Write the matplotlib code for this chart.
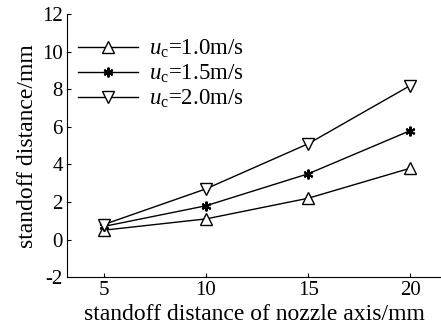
import matplotlib
matplotlib.use("Agg")
import matplotlib.pyplot as plt

x = [5, 10, 15, 20]
u10 = [0.5, 1.1, 2.2, 3.8]
u15 = [0.7, 1.8, 3.5, 5.8]
u20 = [0.8, 2.7, 5.1, 8.2]
labels = [r'$u_{\rm c}$=1.0m/s', r'$u_{\rm c}$=1.5m/s', r'$u_{\rm c}$=2.0m/s']
xticks = [5, 10, 15, 20]
yticks = [-2, 0, 2, 4, 6, 8, 10, 12]

plt.rcParams['font.family'] = ['Liberation Serif', 'DejaVu Serif']
plt.rcParams['mathtext.fontset'] = 'custom'
plt.rcParams['mathtext.rm'] = 'Liberation Serif'
plt.rcParams['mathtext.it'] = 'Liberation Serif:italic'
plt.rcParams['axes.unicode_minus'] = False

fig = plt.figure(figsize=(4.41, 3.28), dpi=100)
ax = fig.add_axes([0.152, 0.155, 0.848, 0.802])

ax.plot(x, u10, color='black', lw=1, marker='^', ms=9, mfc='white', mec='black', mew=1, label=labels[0])
ax.plot(x, u15, color='black', lw=1, marker=(6, 2, 0), ms=7, mec='black', mew=1.5, label=labels[1])
ax.plot(x, u20, color='black', lw=1, marker='v', ms=9, mfc='white', mec='black', mew=1, label=labels[2])

ax.set_xlim(3.2, 21.5)
ax.set_ylim(-2, 12)
ax.set_xticks(xticks)
ax.set_yticks(yticks)
ax.tick_params(direction='in', labelsize=15, length=3, width=0.8, pad=3)
ax.spines['top'].set_visible(False)
ax.spines['right'].set_visible(False)
ax.set_xlabel('standoff distance of nozzle axis/mm', fontsize=17, labelpad=3)
ax.set_ylabel('standoff distance/mm', fontsize=17, labelpad=3)

leg = ax.legend(loc='upper left', bbox_to_anchor=(0.03, 0.91), frameon=False, fontsize=16.5,
                handlelength=2.6, handletextpad=0.5, labelspacing=0.12, borderaxespad=0,
                borderpad=0)

fig.savefig('out.png', dpi=100)
